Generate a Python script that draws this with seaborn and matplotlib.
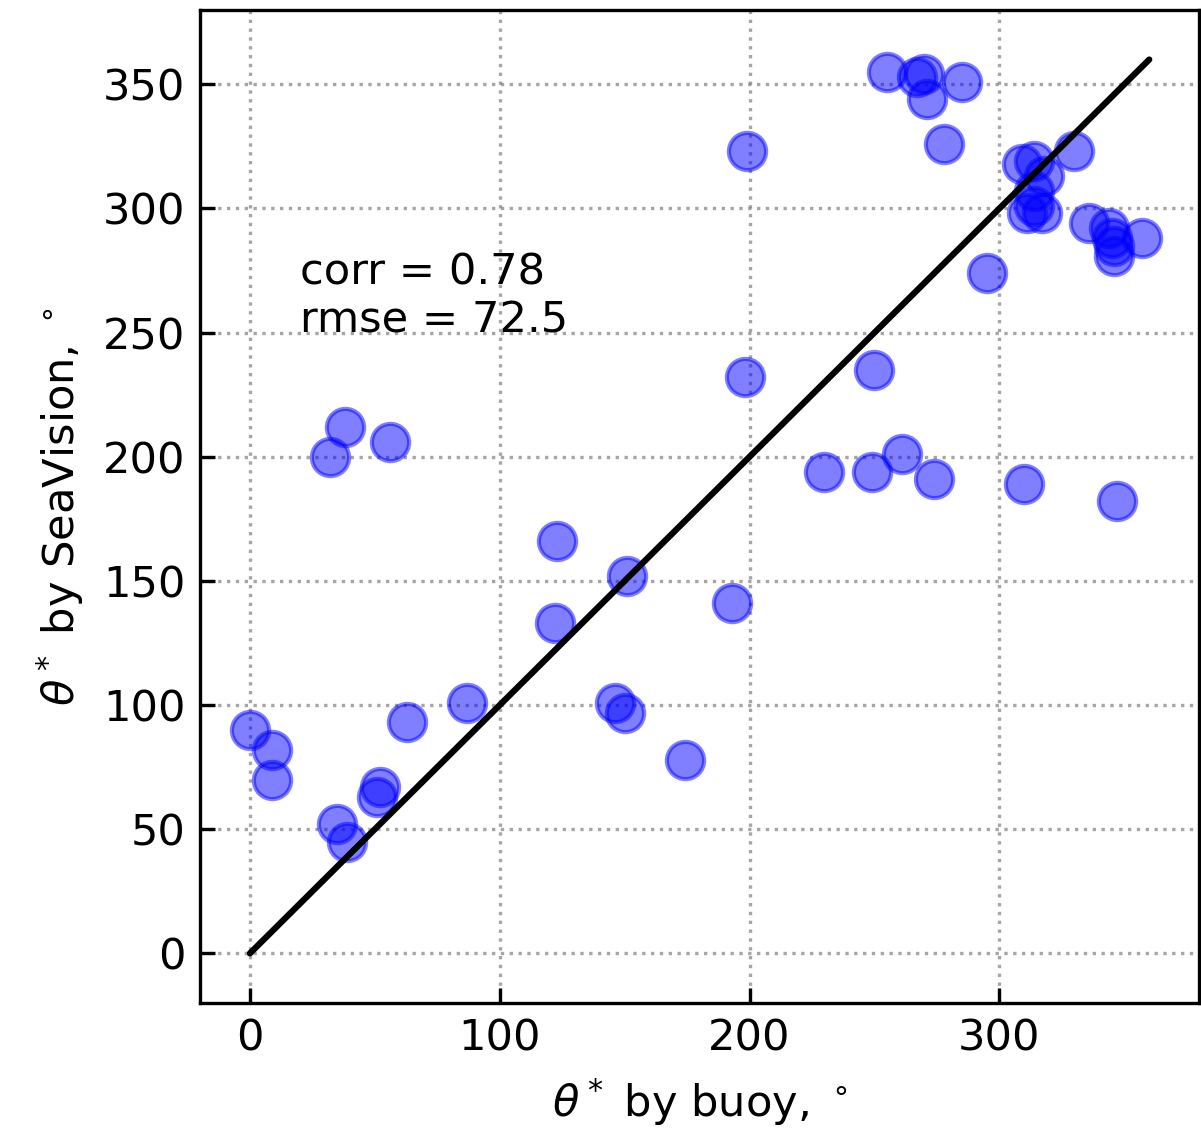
import matplotlib
matplotlib.use("Agg")
import matplotlib.pyplot as plt
import seaborn as sns
import numpy as np

buoy = [0, 9, 9, 35, 39, 51, 52, 63, 87, 122,
        123, 146, 150, 151, 174, 193, 198, 199, 32, 38,
        56, 230, 249, 250, 261, 274, 310, 347, 295, 255,
        267, 270, 271, 285, 278, 309, 314, 318, 314, 311,
        314, 317, 330, 336, 344, 345, 346, 346, 357]
seavision = [90, 82, 70, 52, 45, 63, 67, 93, 101, 133,
             166, 101, 97, 152, 78, 141, 232, 323, 200, 212,
             206, 194, 194, 235, 201, 191, 189, 182, 274, 355,
             353, 354, 344, 351, 326, 318, 319, 313, 307, 298,
             301, 298, 323, 294, 292, 288, 285, 281, 288]
diag = [0, 360]
xticks = [0, 100, 200, 300]
yticks = [0, 50, 100, 150, 200, 250, 300, 350]
annot = "corr = 0.78\nrmse = 72.5"

sns.set_style("ticks")
plt.rcParams['font.family'] = ['DejaVu Sans']
plt.rcParams['font.size'] = 10.4
for k in ['text.color', 'axes.labelcolor', 'xtick.color', 'ytick.color', 'axes.edgecolor']:
    plt.rcParams[k] = 'black'

fig = plt.figure(figsize=(1201/300, 1135/300), dpi=300)
ax = fig.add_axes([0.1665, 0.1163, 0.832, 0.875])

sns.scatterplot(x=buoy, y=seavision, ax=ax, s=80, color='blue', alpha=0.5,
                edgecolor='blue', linewidth=1.0, zorder=3)
ax.plot(diag, diag, color='black', lw=1.5, zorder=4)

ax.set_xlim(-20, 380)
ax.set_ylim(-20, 380)
ax.set_xticks(xticks)
ax.set_yticks(yticks)
ax.tick_params(direction='in', length=3.5, width=0.8, labelsize=10.4, colors='black')
ax.grid(True, linestyle=':', color='gray', alpha=0.7, lw=0.8)
for s in ax.spines.values():
    s.set_linewidth(0.8)
    s.set_color('black')
ax.text(20, 250, annot, fontsize=10.4, color='black')
ax.set_xlabel(r"$\theta^*$ by buoy, $^\circ$", fontsize=10.4, color='black')
ax.set_ylabel(r"$\theta^*$ by SeaVision, $^\circ$", fontsize=10.4, color='black')

fig.savefig("out.png", dpi=300)
